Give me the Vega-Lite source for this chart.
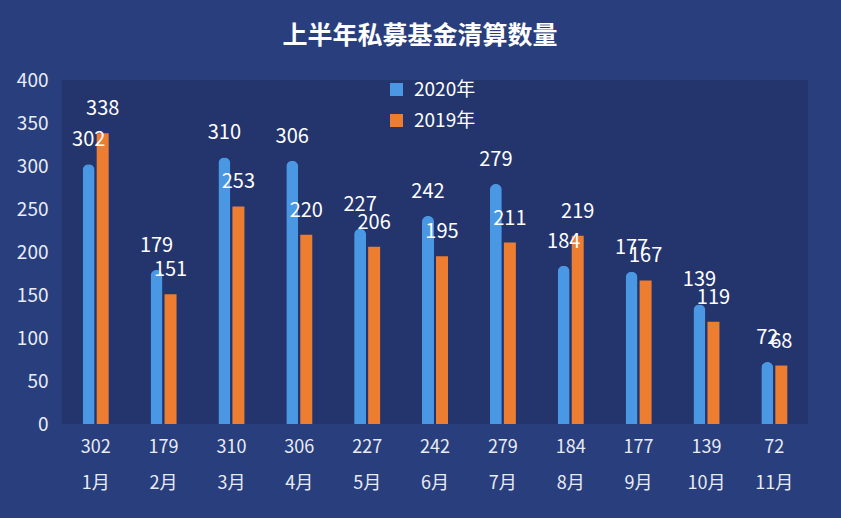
{
  "$schema": "https://vega.github.io/schema/vega-lite/v6.json",
  "autosize": "none",
  "width": 746,
  "height": 344,
  "padding": {"left": 62, "top": 80, "right": 33, "bottom": 94},
  "background": "#293e7c",
  "config": {
    "view": {"fill": "#23356c", "stroke": null},
    "font": "Noto Sans CJK SC"
  },
  "title": {
    "text": "上半年私募基金清算数量",
    "anchor": "middle",
    "frame": "group",
    "dx": -15,
    "offset": 22,
    "fontSize": 25,
    "fontWeight": "bold",
    "color": "#ffffff",
    "font": "Noto Sans CJK SC"
  },
  "data": {
    "values": [
      {"month": "1月", "year": "2020年", "value": 302},
      {"month": "1月", "year": "2019年", "value": 338},
      {"month": "2月", "year": "2020年", "value": 179},
      {"month": "2月", "year": "2019年", "value": 151},
      {"month": "3月", "year": "2020年", "value": 310},
      {"month": "3月", "year": "2019年", "value": 253},
      {"month": "4月", "year": "2020年", "value": 306},
      {"month": "4月", "year": "2019年", "value": 220},
      {"month": "5月", "year": "2020年", "value": 227},
      {"month": "5月", "year": "2019年", "value": 206},
      {"month": "6月", "year": "2020年", "value": 242},
      {"month": "6月", "year": "2019年", "value": 195},
      {"month": "7月", "year": "2020年", "value": 279},
      {"month": "7月", "year": "2019年", "value": 211},
      {"month": "8月", "year": "2020年", "value": 184},
      {"month": "8月", "year": "2019年", "value": 219},
      {"month": "9月", "year": "2020年", "value": 177},
      {"month": "9月", "year": "2019年", "value": 167},
      {"month": "10月", "year": "2020年", "value": 139},
      {"month": "10月", "year": "2019年", "value": 119},
      {"month": "11月", "year": "2020年", "value": 72},
      {"month": "11月", "year": "2019年", "value": 68}
    ]
  },
  "encoding": {
    "x": {
      "field": "month",
      "type": "nominal",
      "sort": null,
      "scale": {"paddingInner": 0.587, "paddingOuter": 0.29},
      "axis": {
        "title": null,
        "domain": false,
        "ticks": false,
        "labelAngle": 0,
        "labelPadding": 14,
        "labelFontSize": 18,
        "labelColor": "#e8ecf6",
        "labelLineHeight": 36,
        "labelExpr": "[{'1月':'302','2月':'179','3月':'310','4月':'306','5月':'227','6月':'242','7月':'279','8月':'184','9月':'177','10月':'139','11月':'72'}[datum.value], datum.value]"
      }
    },
    "xOffset": {
      "field": "year",
      "type": "nominal",
      "sort": ["2020年", "2019年"],
      "scale": {"paddingInner": 0, "paddingOuter": 0}
    },
    "y": {
      "field": "value",
      "type": "quantitative",
      "scale": {"domain": [0, 400]},
      "axis": {
        "title": null,
        "domain": false,
        "ticks": false,
        "grid": false,
        "values": [0, 50, 100, 150, 200, 250, 300, 350, 400],
        "labelPadding": 14,
        "labelFontSize": 19,
        "labelColor": "#e8ecf6"
      }
    }
  },
  "layer": [
    {
      "transform": [{"filter": "datum.year == '2020年'"}],
      "mark": {"type": "bar", "size": 12, "cornerRadiusTopLeft": 6, "cornerRadiusTopRight": 6},
      "encoding": {
        "color": {
          "field": "year",
          "type": "nominal",
          "scale": {"domain": ["2020年", "2019年"], "range": ["#4a98e4", "#ed7d31"]},
          "legend": {
            "title": null,
            "orient": "none",
            "legendX": 325,
            "legendY": 0,
            "direction": "vertical",
            "symbolType": "square",
            "symbolSize": 169,
            "symbolStrokeWidth": 0,
            "labelFontSize": 19,
            "labelColor": "#ffffff",
            "rowPadding": 11,
            "labelOffset": 8
          }
        }
      }
    },
    {
      "transform": [{"filter": "datum.year == '2019年'"}],
      "mark": {"type": "bar", "size": 12},
      "encoding": {
        "color": {"field": "year", "type": "nominal"}
      }
    },
    {
      "mark": {"type": "text", "baseline": "middle", "dy": -24, "fontSize": 20, "color": "#ffffff"},
      "encoding": {
        "text": {"field": "value", "type": "quantitative"}
      }
    }
  ]
}
